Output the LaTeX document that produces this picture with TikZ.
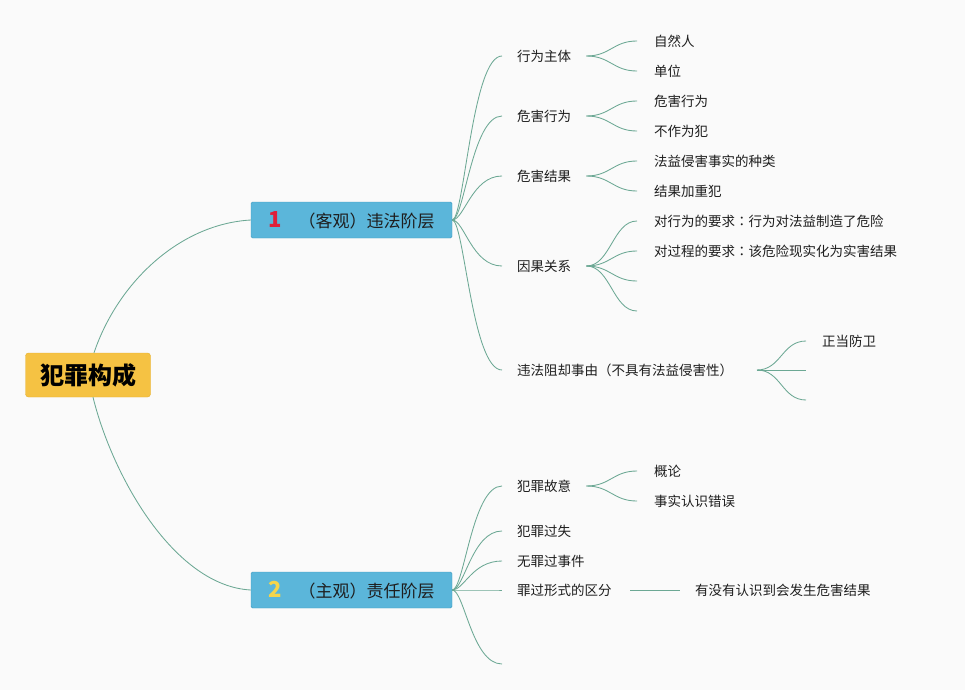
\documentclass[tikz,border=0pt]{standalone}
\usepackage{fontspec}
\setmainfont{Noto Sans CJK SC}
\newfontfamily\jpf{Noto Sans CJK JP}
\definecolor{bgc}{HTML}{FAFAFA}
\definecolor{linec}{HTML}{6CA894}
\definecolor{rootc}{HTML}{F5C243}
\definecolor{rootd}{HTML}{E6B02E}
\definecolor{bluec}{HTML}{5BB6DA}
\definecolor{blued}{HTML}{3E9AC0}
\definecolor{txt}{HTML}{1E1E1E}
\definecolor{onec}{HTML}{E0203A}
\definecolor{twoc}{HTML}{F5D54A}
\begin{document}
\begin{tikzpicture}[x=1pt,y=-1pt,
  conn/.style={draw=linec, line width=0.85pt},
  leaf/.style={anchor=west, inner sep=0pt, font=\fontsize{13.5}{15}\selectfont, text=txt},
  rootbox/.style={draw=rootd, fill=rootc, rounded corners=3pt, minimum width=125pt, minimum height=44pt, inner sep=0pt, font=\fontsize{24}{26}\selectfont\bfseries, text=black},
  lonebox/.style={draw=blued, fill=bluec, rounded corners=1.5pt, minimum width=201pt, minimum height=36pt, inner sep=0pt, font=\fontsize{17}{19}\selectfont, text=txt}
]
\fill[bgc] (0,0) rectangle (965,690);
\useasboundingbox (0,0) rectangle (965,690);

% root and level 1
\node[rootbox] (root) at (88,375) {犯罪构成};
\node[lonebox] (a) at (351.5,220) {\textcolor{onec}{\fontsize{22}{22}\selectfont\bfseries 1}\hspace{17pt}（客观）违法阶层};
\node[lonebox] (b) at (351.5,590) {\textcolor{twoc}{\fontsize{22}{22}\selectfont\bfseries 2}\hspace{17pt}（主观）责任阶层};

\draw[conn] ([xshift=6pt]root.north) .. controls (118,282) and (180,224) .. (a.west);
\draw[conn] ([xshift=5pt]root.south) .. controls (113,478) and (175,586) .. (b.west);

% level 2 under a
\node[leaf] (c11) at (517,56) {行为主体};
\node[leaf] (c12) at (517,116) {危害行为};
\node[leaf] (c13) at (517,176) {危害结果};
\node[leaf] (c14) at (517,266) {因果关系};
\node[leaf] (c15) at (517,370) {违法阻却事由（不具有法益侵害性）};

\foreach \c in {c11,c12,c13,c14,c15}{
  \draw[conn] (a.east) .. controls +(12,0) and ([xshift=-45pt]\c.west) .. ([xshift=-15pt]\c.west);
}

% level 2 under b
\node[leaf] (d1) at (517,486) {犯罪故意};
\node[leaf] (d2) at (517,531) {犯罪过失};
\node[leaf] (d3) at (517,561) {无罪过事件};
\node[leaf] (d4) at (517,590) {罪过形式的区分};
\coordinate (d5) at (502,664);

\foreach \c in {d1,d2,d3,d4}{
  \draw[conn] (b.east) .. controls +(12,0) and ([xshift=-45pt]\c.west) .. ([xshift=-15pt]\c.west);
}
\draw[conn] (b.east) .. controls +(12,0) and ([xshift=-30pt]d5) .. (d5);

% level 3 leaves
\node[leaf] (e1) at (654,41) {自然人};
\node[leaf] (e2) at (654,71) {单位};
\node[leaf] (e3) at (654,101) {危害行为};
\node[leaf] (e4) at (654,131) {不作为犯};
\node[leaf] (e5) at (654,161) {法益侵害事实的种类};
\node[leaf] (e6) at (654,191) {结果加重犯};
\node[leaf] (e7) at (654,221) {对行为的要求{\jpf ：}行为对法益制造了危险};
\node[leaf] (e8) at (654,251) {对过程的要求{\jpf ：}该危险现实化为实害结果};
\coordinate (e9) at (637,281);
\coordinate (e10) at (637,311);
\node[leaf] (f1) at (822,341) {正当防卫};
\coordinate (f2) at (806,370);
\coordinate (f3) at (806,400);
\node[leaf] (g1) at (654,471) {概论};
\node[leaf] (g2) at (654,501) {事实认识错误};
\node[leaf] (h1) at (695,590) {有没有认识到会发生危害结果};

% start points of sub-branches
\coordinate (s11) at ([xshift=15pt]c11.east);
\coordinate (s12) at ([xshift=15pt]c12.east);
\coordinate (s13) at ([xshift=15pt]c13.east);
\coordinate (s14) at ([xshift=15pt]c14.east);
\coordinate (s15) at (757,370);
\coordinate (sd1) at ([xshift=15pt]d1.east);

\foreach \s/\t in {s11/e1,s11/e2,s12/e3,s12/e4,s13/e5,s13/e6,s14/e7,s14/e8,sd1/g1,sd1/g2}{
  \draw[conn] (\s) .. controls +(24,0) and ([xshift=-41pt]\t.west) .. ([xshift=-17pt]\t.west);
}
\foreach \t in {e9,e10}{
  \draw[conn] (s14) .. controls +(24,0) and ([xshift=-24pt]\t) .. (\t);
}
\draw[conn] (s15) .. controls +(24,0) and ([xshift=-40pt]f1.west) .. ([xshift=-16pt]f1.west);
\draw[conn] (s15) -- (f2);
\draw[conn] (s15) .. controls +(24,0) and ([xshift=-24pt]f3) .. (f3);

\draw[conn] (630,590) -- ([xshift=-15pt]h1.west);
\end{tikzpicture}
\end{document}
